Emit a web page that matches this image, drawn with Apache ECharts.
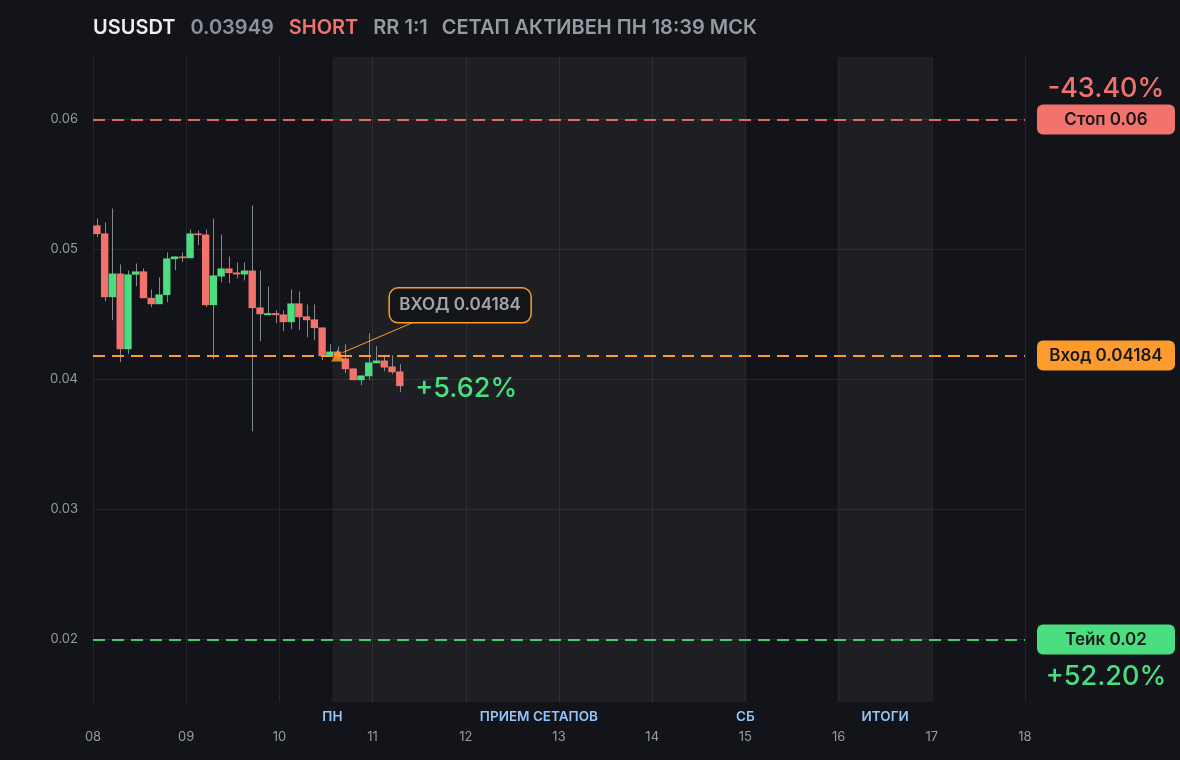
<!DOCTYPE html>
<html><head><meta charset="utf-8">
<script src="https://cdn.jsdelivr.net/npm/echarts@6/dist/echarts.min.js"></script>
<style>html,body{margin:0;padding:0;background:#131419;} #c{width:1180px;height:760px;}</style>
</head><body><div id="c"></div>
<script>
// ---- header texts ----
const symbolName = 'USUSDT';
const lastPrice = '0.03949';
const sideText = 'SHORT';
const rrText = 'RR 1:1';
const statusText = 'СЕТАП АКТИВЕН ПН 18:39 МСК';

// ---- candles (2h), time as "DD HH:MM" ----
const candleTimes = [
  '08 01:00','08 03:00','08 05:00','08 07:00','08 09:00','08 11:00','08 13:00','08 15:00','08 17:00','08 19:00','08 21:00','08 23:00',
  '09 01:00','09 03:00','09 05:00','09 07:00','09 09:00','09 11:00','09 13:00','09 15:00','09 17:00','09 19:00','09 21:00','09 23:00',
  '10 01:00','10 03:00','10 05:00','10 07:00','10 09:00','10 11:00','10 13:00','10 15:00','10 17:00','10 19:00','10 21:00','10 23:00',
  '11 01:00','11 03:00','11 05:00','11 07:00'
];
const opens  = [0.05185,0.05123,0.04633,0.04815,0.04233,0.04806,0.04831,0.04628,0.04579,0.04649,0.04925,0.04946,
                0.04933,0.05123,0.05115,0.04572,0.04792,0.04854,0.04823,0.04808,0.04838,0.04554,0.04495,0.04510,
                0.04500,0.04441,0.04585,0.04485,0.04462,0.04400,0.04179,0.04215,0.04162,0.04085,0.03995,0.04025,
                0.04125,0.04146,0.04100,0.04062];
const closes = [0.05118,0.04633,0.04815,0.04233,0.04808,0.04831,0.04625,0.04579,0.04654,0.04931,0.04946,0.04933,
                0.05123,0.05110,0.04572,0.04800,0.04854,0.04818,0.04808,0.04838,0.04549,0.04502,0.04510,0.04495,
                0.04441,0.04585,0.04479,0.04456,0.04395,0.04179,0.04215,0.04170,0.04079,0.03995,0.04031,0.04131,
                0.04146,0.04092,0.04056,0.03949];
const lows   = [0.05095,0.04602,0.04456,0.04133,0.04195,0.04718,0.04625,0.04556,0.04579,0.04595,0.04841,0.04902,
                0.04931,0.05033,0.04556,0.04156,0.04748,0.04741,0.04777,0.04762,0.03602,0.04295,0.04495,0.04433,
                0.04372,0.04387,0.04379,0.04325,0.04302,0.04149,0.04179,0.04150,0.04049,0.03995,0.03956,0.03995,
                0.04125,0.04064,0.04041,0.03902];
const highs  = [0.05238,0.05208,0.05315,0.04885,0.04838,0.04892,0.04854,0.04692,0.04785,0.04977,0.04946,0.04977,
                0.05154,0.05146,0.05154,0.05238,0.05115,0.04946,0.04900,0.04900,0.05338,0.04838,0.04715,0.04531,
                0.04531,0.04692,0.04677,0.04577,0.04577,0.04400,0.04272,0.04254,0.04272,0.04085,0.04031,0.04356,
                0.04256,0.04187,0.04187,0.04118];

// ---- axes ----
const yTicks = [0.02, 0.03, 0.04, 0.05, 0.06];
const yMin = 0.0152, yMax = 0.0648;
const xMinDay = 8, xMaxDay = 18;

// ---- trade levels ----
const stopPrice = 0.06, entryPrice = 0.04184, takePrice = 0.02;
const stopLabel = 'Стоп 0.06', entryLabel = 'Вход 0.04184', takeLabel = 'Тейк 0.02';
const stopPct = '-43.40%', takePct = '+52.20%', currentPct = '+5.62%';
const entryTime = '10 15:00';
const entryNote = 'ВХОД 0.04184';

// ---- zones ----
const zoneNames = ['ПРИЕМ СЕТАПОВ', 'ИТОГИ'];
const zoneFrom  = ['10 13:39', '16 00:00'];
const zoneTo    = ['15 00:00', '17 00:00'];
const pointNames = ['ПН', 'СБ'];
const pointAt    = ['10 13:39', '15 00:00'];

const C = {
  bg:'#131419', zone:'rgba(255,255,255,0.048)', grid:'#25262b', label:'#969900',
  up:'#4ade80', down:'#f2736e', wick:'#85878e', orange:'#fd9c2c', blue:'#93c5fd'
};
C.label = '#969aa1';
const FONT = 'Inter, "Noto Sans", sans-serif';

function parseT(s){ const [d,t]=s.split(' '); const [h,m]=t.split(':'); return +d + (+h + (+m)/60)/24; }
const CANDLE_SPAN = 2/24;

const candleData = candleTimes.map((t,i)=>[parseT(t), opens[i], closes[i], lows[i], highs[i]]);

function renderCandle(params, api){
  const x = api.value(0), o = api.value(1), c = api.value(2), l = api.value(3), h = api.value(4);
  const pO = api.coord([x,o]), pC = api.coord([x,c]), pL = api.coord([x,l]), pH = api.coord([x,h]);
  const w = api.size([CANDLE_SPAN,0])[0]*0.95;
  const cx = Math.round(pO[0]) + 0.5;
  const top = Math.min(pO[1],pC[1]);
  const hgt = Math.max(1.6, Math.abs(pO[1]-pC[1]));
  return {type:'group', children:[
    {type:'line', shape:{x1:cx,y1:pH[1],x2:cx,y2:pL[1]}, style:{stroke:C.wick,lineWidth:1}},
    {type:'rect', shape:{x:pO[0]-w/2,y:top,width:w,height:hgt}, style:{fill: c>=o?C.up:C.down}}
  ]};
}

const chart = echarts.init(document.getElementById('c'), null, {renderer:'canvas'});
const areaData = [];
zoneNames.forEach((n,i)=>areaData.push([{name:n, xAxis:parseT(zoneFrom[i]), itemStyle:{color:C.zone}},{xAxis:parseT(zoneTo[i])}]));
pointNames.forEach((n,i)=>areaData.push([{name:n, xAxis:parseT(pointAt[i]), itemStyle:{color:'rgba(0,0,0,0)'}},{xAxis:parseT(pointAt[i])}]));

chart.setOption({
  backgroundColor: C.bg,
  animation:false,
  textStyle:{fontFamily:FONT},
  grid:{left:93, right:155, top:57, bottom:58, containLabel:false},
  xAxis:{type:'value', min:xMinDay, max:xMaxDay, interval:1,
    axisLine:{show:false}, axisTick:{show:false},
    splitLine:{show:true, lineStyle:{color:C.grid, width:1}},
    axisLabel:{formatter:v=>String(v).padStart(2,'0'), color:C.label, fontSize:13, margin:29, fontFamily:FONT}},
  yAxis:{type:'value', min:yMin, max:yMax, scale:true,
    axisLine:{show:false}, axisTick:{show:false, customValues:yTicks},
    splitLine:{show:true, lineStyle:{color:C.grid, width:1}},
    axisLabel:{customValues:yTicks, formatter:v=>v.toFixed(2), color:C.label, fontSize:13, margin:15, fontFamily:FONT}},
  series:[
    {type:'custom', name:'candles', z:3, data:candleData, encode:{x:0,y:[1,2,3,4]}, renderItem:renderCandle, clip:true},
    {type:'scatter', name:'entry', z:8, zlevel:0, data:[[parseT(entryTime), entryPrice]], symbol:'triangle', symbolSize:[13,12],
      itemStyle:{color:C.orange}, silent:true,
      markArea:{silent:true, z:1,
        label:{show:true, position:'bottom', distance:8, color:C.blue, fontSize:13.5, fontWeight:600, fontFamily:FONT},
        data:areaData},
      markLine:{silent:true, z:5, symbol:'none', precision:6, label:{show:false},
        lineStyle:{type:[12,7], width:2},
        data:[
          {yAxis:stopPrice, lineStyle:{color:C.down, type:[12,7], width:2, opacity:0.9}},
          {yAxis:entryPrice, lineStyle:{color:C.orange, type:[12,7], width:2}},
          {yAxis:takePrice, lineStyle:{color:C.up, type:[12,7], width:2, opacity:0.9}}
        ]}
    }
  ]
});

const px = v => chart.convertToPixel({xAxisIndex:0}, v);
const py = v => chart.convertToPixel({yAxisIndex:0}, v);
const boxL = px(xMaxDay) + 12, boxW = 138, boxH = 30, boxC = boxL + boxW/2;
function levelBox(price, text, color){
  const y = py(price);
  return [
    {type:'rect', shape:{x:boxL, y:y-boxH/2, width:boxW, height:boxH, r:6}, style:{fill:color}},
    {type:'text', style:{text, x:boxC, y:y, align:'center', verticalAlign:'middle', fill:'#17181c', fontSize:17, fontWeight:600, fontFamily:FONT}}
  ];
}
const ex = px(parseT(entryTime)), ey = py(entryPrice);
const lastIdx = candleTimes.length-1;
const lx = px(parseT(candleTimes[lastIdx])), ly = py(closes[lastIdx]);
const gfx = [
  {type:'text', style:{
    text:`{s|${symbolName}}{p|${lastPrice}}{d|${sideText}}{r|${rrText}}{t|${statusText}}`,
    x:93, y:28, verticalAlign:'middle',
    rich:{
      s:{fill:'#eceef2', fontSize:20, fontWeight:600, fontFamily:FONT, padding:[0,15,0,0]},
      p:{fill:'#8e9199', fontSize:20, fontWeight:600, fontFamily:FONT, padding:[0,15,0,0]},
      d:{fill:C.down, fontSize:20, fontWeight:600, fontFamily:FONT, padding:[0,15,0,0]},
      r:{fill:'#979aa1', fontSize:20, fontWeight:600, fontFamily:FONT, padding:[0,14,0,0]},
      t:{fill:'#979aa1', fontSize:20, fontWeight:600, fontFamily:FONT}
    }}},
  ...levelBox(stopPrice, stopLabel, C.down),
  ...levelBox(entryPrice, entryLabel, C.orange),
  ...levelBox(takePrice, takeLabel, C.up),
  {type:'text', style:{text:stopPct, x:boxC, y:py(stopPrice)-31, align:'center', verticalAlign:'middle', fill:C.down, fontSize:27, fontWeight:500, fontFamily:FONT}},
  {type:'text', style:{text:takePct, x:boxC, y:py(takePrice)+37, align:'center', verticalAlign:'middle', fill:C.up, fontSize:27, fontWeight:500, fontFamily:FONT}},
  {type:'line', z:10, shape:{x1:ex+5, y1:ey-3, x2:ex+74.5, y2:ey-32.7}, style:{stroke:C.orange, lineWidth:1}},
  {type:'rect', z:10, shape:{x:ex+51.5, y:ey-67.7, width:142, height:35, r:9}, style:{fill:'#141519', stroke:C.orange, lineWidth:1.5}},
  {type:'text', z:11, style:{text:entryNote, x:ex+51.5+71, y:ey-67.7+17.5, align:'center', verticalAlign:'middle', fill:'#a3a6ad', fontSize:17, fontWeight:600, fontFamily:FONT}},
  {type:'text', z:10, style:{text:currentPct, x:lx+15.5, y:ly+2.5, align:'left', verticalAlign:'middle', fill:C.up, fontSize:27, fontWeight:500, fontFamily:FONT}}
];
chart.setOption({graphic:gfx});
</script>
</body></html>
